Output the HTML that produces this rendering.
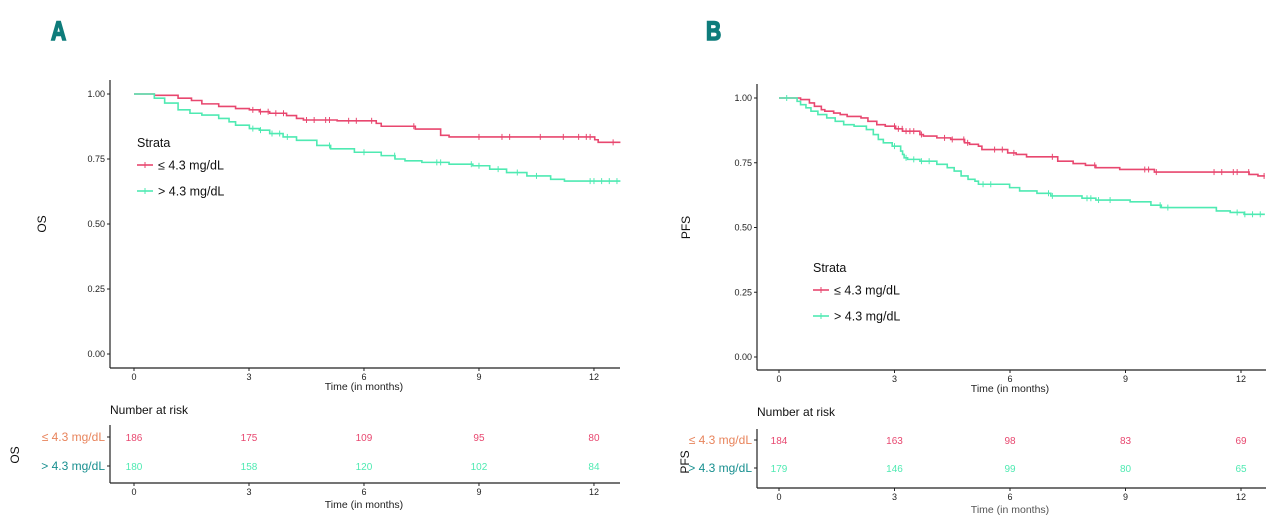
<!DOCTYPE html>
<html><head><meta charset="utf-8"><style>
body{margin:0;background:#fff;}
svg{display:block;font-family:"Liberation Sans",sans-serif;}
</style></head><body>
<svg id="chart" width="1280" height="529" viewBox="0 0 1280 529">
<text x="51" y="40" font-size="27" font-weight="bold" fill="#0e7c7b" stroke="#0e7c7b" stroke-width="1.6" transform="translate(51,40) scale(0.78,1) translate(-51,-40)">A</text>
<text x="706" y="40" font-size="27" font-weight="bold" fill="#0e7c7b" stroke="#0e7c7b" stroke-width="1.6" transform="translate(706,40) scale(0.78,1) translate(-706,-40)">B</text>
</svg>
<script>
// ---- data ----
const tickMonths=[0,3,6,9,12];
const yTicks=[0,0.25,0.5,0.75,1];
const yTickLabels=["0.00","0.25","0.50","0.75","1.00"];
const groups=["≤ 4.3 mg/dL","> 4.3 mg/dL"];
// Panel A OS
const osLowT=[0,0.53,1.15,1.50,1.77,2.21,2.65,3.01,3.27,3.54,3.98,4.24,4.42,5.30,6.32,6.45,7.34,8.00,8.22,12.02,12.11,12.69];
const osLowS=[1,0.995,0.984,0.975,0.962,0.952,0.944,0.939,0.932,0.926,0.917,0.906,0.90,0.897,0.887,0.876,0.865,0.841,0.835,0.824,0.814,0.814];
const osHighT=[0,0.53,0.80,0.88,1.15,1.46,1.77,2.21,2.48,2.65,3.01,3.27,3.54,3.89,4.24,4.77,5.13,5.75,6.45,6.81,7.07,7.51,8.22,8.84,9.28,9.72,10.25,10.87,11.23,12.02,12.69];
const osHighS=[1,0.984,0.965,0.965,0.939,0.926,0.919,0.906,0.893,0.880,0.867,0.861,0.848,0.835,0.822,0.802,0.789,0.776,0.763,0.750,0.743,0.737,0.730,0.724,0.711,0.698,0.685,0.672,0.665,0.665,0.665];
const osLowCens=[3.1,3.3,3.5,3.7,3.9,4.5,4.7,5.0,5.1,5.6,5.8,6.2,7.3,9.0,9.6,9.8,10.6,11.2,11.6,11.8,11.9,12.5];
const osHighCens=[3.1,3.3,3.6,3.8,4.0,5.1,6.0,6.8,7.9,8.0,8.8,9.0,9.5,10.0,10.5,11.9,12.0,12.2,12.4,12.6];
const osRiskLow=[186,175,109,95,80];
const osRiskHigh=[180,158,120,102,84];
// Panel B PFS
const pfsLowT=[0,0.56,0.79,0.92,1.10,1.19,1.42,1.59,1.77,2.13,2.31,2.54,2.76,3.03,3.21,3.66,3.75,4.10,4.46,4.82,4.95,5.18,5.27,5.94,6.16,6.43,7.24,7.64,7.96,8.23,8.85,9.75,11.90,12.21,12.44,12.62];
const pfsLowS=[1,0.994,0.981,0.968,0.955,0.949,0.942,0.936,0.929,0.923,0.910,0.897,0.891,0.881,0.872,0.859,0.853,0.846,0.840,0.827,0.821,0.814,0.801,0.788,0.782,0.773,0.756,0.747,0.740,0.731,0.724,0.714,0.714,0.705,0.699,0.699];
const pfsHighT=[0,0.47,0.56,0.70,0.83,1.01,1.24,1.46,1.68,1.95,2.27,2.45,2.58,2.71,2.94,3.16,3.21,3.25,3.34,3.66,4.10,4.37,4.55,4.73,4.91,5.09,5.18,5.99,6.25,6.70,7.06,7.87,8.23,9.12,9.66,9.93,11.36,11.72,12.08,12.17,12.62];
const pfsHighS=[1,0.987,0.974,0.962,0.949,0.936,0.923,0.910,0.897,0.891,0.878,0.859,0.840,0.827,0.814,0.795,0.782,0.769,0.763,0.756,0.744,0.731,0.718,0.699,0.686,0.679,0.667,0.654,0.641,0.632,0.622,0.613,0.606,0.599,0.586,0.577,0.564,0.558,0.551,0.551,0.551];
const pfsLowCens=[3.0,3.1,3.2,3.3,3.4,3.5,3.7,4.3,4.5,4.8,4.9,5.6,5.8,6.1,7.1,8.2,9.5,9.6,9.8,11.3,11.5,11.8,11.9,12.2,12.6];
const pfsHighCens=[0.2,3.0,3.3,3.5,3.7,3.9,5.3,5.5,7.0,7.1,8.0,8.1,8.3,8.6,9.9,10.1,11.9,12.1,12.3,12.5];
const pfsRiskLow=[184,163,98,83,69];
const pfsRiskHigh=[179,146,99,80,65];

const RED="#e8476f", GREEN="#4feab2";
const NS="http://www.w3.org/2000/svg";
const svg=document.getElementById('chart');
function mk(tag,attrs,parent,txt){const e=document.createElementNS(NS,tag);for(const k in attrs)e.setAttribute(k,attrs[k]);if(txt!=null)e.textContent=txt;(parent||svg).appendChild(e);return e;}

function panel(P){
  const xs=t=>P.x0+t*P.pxm;
  const ys=s=>P.y0-s*P.h;
  const g=mk('g',{});
  
  
  const ax=mk('line',{x1:P.ax,y1:P.axTop,x2:P.ax,y2:P.ayB,stroke:'#222','stroke-width':1.2},g);
  
  const bx=mk('line',{x1:P.ax,y1:P.ayB,x2:P.axR,y2:P.ayB,stroke:'#222','stroke-width':1.2},g);
  
  yTicks.forEach((v,i)=>{
    mk('line',{x1:P.ax-3,y1:ys(v),x2:P.ax,y2:ys(v),stroke:'#222'},g);
    const t=mk('text',{x:P.ax-5,y:ys(v)+3,'font-size':9,'text-anchor':'end',fill:'#222'},g,yTickLabels[i]);
    
  });
  tickMonths.forEach(m=>{
    mk('line',{x1:xs(m),y1:P.ayB,x2:xs(m),y2:P.ayB+3,stroke:'#222'},g);
    const t=mk('text',{x:xs(m),y:P.ayB+12,'font-size':9,'text-anchor':'middle',fill:'#222'},g,m);
    
  });
  const xt=mk('text',{x:xs(6),y:P.ayB+22,'font-size':10.5,'text-anchor':'middle',fill:'#222'},g,'Time (in months)');
  
  const yt=mk('text',{x:P.ylabX,y:ys(0.5),'font-size':12,'text-anchor':'middle',fill:'#111',transform:`rotate(-90 ${P.ylabX} ${ys(0.5)})`},g,P.ylab);
  
  [[P.lowT,P.lowS,P.lowC,RED,'low'],[P.highT,P.highS,P.highC,GREEN,'high']].forEach(([T,S,C,col,nm])=>{
    let d=`M${xs(T[0])},${ys(S[0])}`;
    for(let i=1;i<T.length;i++){d+=`H${xs(T[i])}V${ys(S[i])}`;}
    const p=mk('path',{d,fill:'none',stroke:col,'stroke-width':1.6},g);
    
    C.forEach(c=>{
      let s=S[0];for(let i=0;i<T.length;i++){if(T[i]<=c)s=S[i];}
      const m=mk('path',{d:`M${xs(c)},${ys(s)-3}v6`,stroke:col,'stroke-width':1},g);
      
    });
  });
  const lg=mk('g',{},g);
  
  const lt=mk('text',{x:P.legX,y:P.legY,'font-size':12.5,fill:'#111'},lg,'Strata');
  
  [[RED,groups[0]],[GREEN,groups[1]]].forEach(([c,l],i)=>{
    const yy=P.legY+18+i*26;
    mk('line',{x1:P.legX,y1:yy,x2:P.legX+16,y2:yy,stroke:c,'stroke-width':1.6},lg);
    mk('line',{x1:P.legX+8,y1:yy-3,x2:P.legX+8,y2:yy+3,stroke:c},lg);
    const e=mk('text',{x:P.legX+21,y:yy+4.5,'font-size':12.5,fill:'#111'},lg,l);
    
  });
  const rt=mk('g',{},g);
  
  const rtt=mk('text',{x:P.ax,y:P.rTitleY,'font-size':12,fill:'#111'},rt,'Number at risk');
  
  mk('line',{x1:P.rax,y1:P.rTop,x2:P.rax,y2:P.rBot,stroke:'#222','stroke-width':1.2},rt);
  mk('line',{x1:P.rax,y1:P.rBot,x2:P.axR,y2:P.rBot,stroke:'#222','stroke-width':1.2},rt);
  [[P.riskLow,RED,'#e8845c',groups[0],P.r1],[P.riskHigh,GREEN,'#178f8f',groups[1],P.r2]].forEach(([arr,c,lc,l,yy])=>{
    const lab=mk('text',{x:P.rax-5,y:yy+4,'font-size':12,'text-anchor':'end',fill:lc},rt,l);
    
    mk('line',{x1:P.rax-3,y1:yy,x2:P.rax,y2:yy,stroke:'#222'},rt);
    arr.forEach((v,i)=>{
      const t=mk('text',{x:xs(tickMonths[i]),y:yy+4,'font-size':10,'text-anchor':'middle',fill:c},rt,v);
      
    });
  });
  tickMonths.forEach(m=>{
    mk('line',{x1:xs(m),y1:P.rBot,x2:xs(m),y2:P.rBot+3,stroke:'#222'},rt);
    mk('text',{x:xs(m),y:P.rBot+12,'font-size':9,'text-anchor':'middle',fill:'#222'},rt,m);
  });
  const rxt=mk('text',{x:xs(6),y:P.rBot+25,'font-size':10.5,'text-anchor':'middle',fill:P.rxCol},rt,'Time (in months)');
  
  const ry=mk('text',{x:P.rLabX,y:P.rLabY,'font-size':12,'text-anchor':'middle',fill:'#111',transform:`rotate(-90 ${P.rLabX} ${P.rLabY})`},rt,P.ylab);
  
}
panel({id:'os',x0:134,pxm:38.33,y0:354,h:260,ax:110,axTop:80,ayB:368,axR:620,ylab:'OS',ylabX:46,
  lowT:osLowT,lowS:osLowS,highT:osHighT,highS:osHighS,lowC:osLowCens,highC:osHighCens,legX:137,legY:147,
  riskLow:osRiskLow,riskHigh:osRiskHigh,rTitleY:414,rax:110,rTop:425,rBot:483,r1:437,r2:466,rLabX:19,rLabY:455,rxCol:'#222'});
panel({id:'pfs',x0:779,pxm:38.5,y0:357,h:259,ax:757,axTop:84,ayB:370,axR:1266,ylab:'PFS',ylabX:690,
  lowT:pfsLowT,lowS:pfsLowS,highT:pfsHighT,highS:pfsHighS,lowC:pfsLowCens,highC:pfsHighCens,legX:813,legY:272,
  riskLow:pfsRiskLow,riskHigh:pfsRiskHigh,rTitleY:416,rax:757,rTop:429,rBot:488,r1:440,r2:468,rLabX:689,rLabY:462,rxCol:'#555'});
</script>
</body></html>
